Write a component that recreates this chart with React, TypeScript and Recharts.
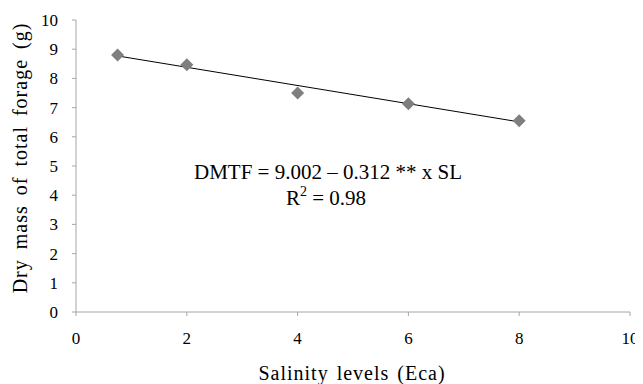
import React from 'react';
import { ScatterChart, Scatter, XAxis, YAxis, Customized } from 'recharts';

const salinity = [0.75, 2, 4, 6, 8];
const dryMass = [8.8, 8.47, 7.5, 7.13, 6.55];
const trendX = [0.75, 8];
const trendY = [8.77, 6.51];
const xTicks = [0, 2, 4, 6, 8, 10];
const yTicks = [0, 1, 2, 3, 4, 5, 6, 7, 8, 9, 10];

const points = salinity.map((x, i) => ({ x, y: dryMass[i] }));
const trend = trendX.map((x, i) => ({ x, y: trendY[i] }));

const FONT = 'Liberation Serif';
const AXIS = '#a6a6a6';

const Diamond = (props: any) => {
  const { cx, cy } = props;
  const r = 6.5;
  return (
    <polygon
      points={`${cx},${cy - r} ${cx + r},${cy} ${cx},${cy + r} ${cx - r},${cy}`}
      fill="#7f7f7f"
    />
  );
};

const Texts = () => (
  <g fill="#000" fontFamily={FONT}>
    <text x={344} y={365} textAnchor="middle" dominantBaseline="central" fontSize={20} wordSpacing={2} letterSpacing={1}>
      Salinity levels (Eca)
    </text>
    <text
      x={12}
      y={150}
      textAnchor="middle"
      dominantBaseline="central"
      fontSize={20}
      wordSpacing={4}
      letterSpacing={1}
      transform="rotate(-90 12 150)"
    >
      Dry mass of total forage (g)
    </text>
    <text x={320} y={164} textAnchor="middle" dominantBaseline="central" fontSize={21}>
      DMTF = 9.002 – 0.312 ** x SL
    </text>
    <text x={318} y={190} textAnchor="middle" dominantBaseline="central" fontSize={21}>
      R<tspan fontSize={14} dy={-7}>2</tspan>
      <tspan dy={7}> = 0.98</tspan>
    </text>
  </g>
);

export default function App() {
  return (
    <div style={{ width: 635, height: 376 }}>
      <ScatterChart width={635} height={376} margin={{ top: 12, right: 13, bottom: 42, left: 0 }}>
        <XAxis
          type="number"
          dataKey="x"
          domain={[0, 10]}
          ticks={xTicks}
          height={30}
          stroke={AXIS}
          tickSize={4}
          tickMargin={16}
          tick={{ fill: '#000', fontSize: 17, fontFamily: FONT }}
          allowDataOverflow
        />
        <YAxis
          type="number"
          dataKey="y"
          domain={[0, 10]}
          ticks={yTicks}
          width={68}
          stroke={AXIS}
          tickSize={4}
          tickMargin={14}
          tick={{ fill: '#000', fontSize: 17, fontFamily: FONT }}
          allowDataOverflow
        />
        <Scatter data={trend} line={{ stroke: '#000', strokeWidth: 1 }} shape={() => null} isAnimationActive={false} />
        <Scatter data={points} shape={Diamond} isAnimationActive={false} />
        <Customized component={Texts} />
      </ScatterChart>
    </div>
  );
}
